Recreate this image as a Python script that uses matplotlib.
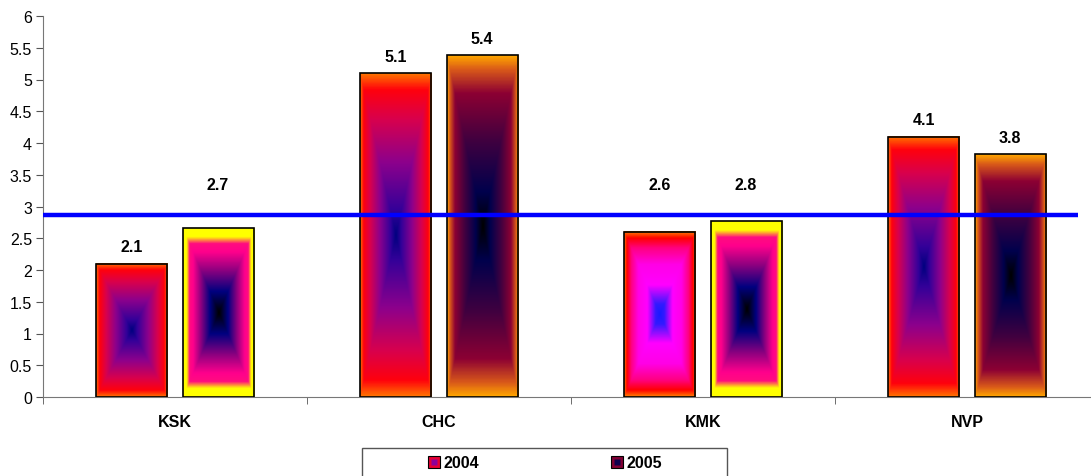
import numpy as np
import matplotlib.pyplot as plt
from matplotlib.colors import LinearSegmentedColormap
from matplotlib.lines import Line2D
from matplotlib.patches import Rectangle

plt.rcParams['font.family'] = ['Liberation Sans', 'DejaVu Sans']

categories = ['KSK', 'CHC', 'KMK', 'NVP']
series_names = ['2004', '2005']
values_2004 = [2.1, 5.1, 2.6, 4.1]
values_2005 = [2.66, 5.38, 2.77, 3.82]
average = 2.87
yticks = np.arange(0, 6.01, 0.5)

# "from centre" gradients: (t, colour), t=0 centre, t=1 edge
grad_a = [(0.0, (0.0, 0.0, 0.5)), (0.15, (0.2, 0.0, 0.6)), (0.45, (0.55, 0.0, 0.55)),
          (0.72, (0.85, 0.0, 0.3)), (0.9, (1.0, 0.0, 0.05)), (1.0, (1.0, 0.45, 0.0))]
grad_b = [(0.0, (0.0, 0.0, 0.0)), (0.25, (0.0, 0.0, 0.5)), (0.5, (0.55, 0.0, 0.5)),
          (0.72, (1.0, 0.0, 0.55)), (0.82, (1.0, 0.05, 0.5)), (0.9, (1.0, 1.0, 0.0)),
          (1.0, (1.0, 1.0, 0.0))]
grad_c = [(0.0, (0.0, 0.0, 0.0)), (0.2, (0.0, 0.0, 0.3)), (0.5, (0.25, 0.0, 0.25)),
          (0.78, (0.55, 0.0, 0.2)), (0.92, (0.85, 0.35, 0.1)), (1.0, (1.0, 0.65, 0.0))]
grad_d = [(0.0, (0.1, 0.1, 1.0)), (0.12, (0.2, 0.1, 1.0)), (0.35, (1.0, 0.0, 1.0)),
          (0.6, (1.0, 0.0, 0.9)), (0.8, (1.0, 0.0, 0.5)), (0.92, (1.0, 0.0, 0.0)),
          (1.0, (1.0, 0.5, 0.0))]
bar_grads = [[grad_a, grad_b], [grad_a, grad_c], [grad_d, grad_b], [grad_a, grad_c]]

fig = plt.figure(figsize=(10.91, 4.77), dpi=100)
ax = fig.add_axes([43 / 1091, 1 - 398 / 477, 1056 / 1091, 381 / 477])

x = np.arange(len(categories))
width = 0.269
off = 0.163
bars04 = ax.bar(x - off, values_2004, width, facecolor='none', edgecolor='black', lw=1.2, zorder=3)
bars05 = ax.bar(x + off, values_2005, width, facecolor='none', edgecolor='black', lw=1.2, zorder=3)

n = 301
u = np.linspace(-1, 1, n)
tt = np.maximum(np.abs(u)[None, :], np.abs(u)[:, None])
for i in range(len(categories)):
    for j, b in enumerate([bars04[i], bars05[i]]):
        cmap = LinearSegmentedColormap.from_list('g', bar_grads[i][j])
        img = cmap(tt)
        ax.imshow(img, extent=[b.get_x(), b.get_x() + b.get_width(), 0, b.get_height()],
                  aspect='auto', interpolation='bilinear', zorder=2)

ax.hlines(average, -0.5, 3.42, color='#0000ff', lw=3.2, zorder=4)

moved = {(0, 1): 3.35, (2, 0): 3.35, (2, 1): 3.35}
for i in range(len(categories)):
    for j, vals in enumerate([values_2004, values_2005]):
        xpos = x[i] + (off if j else -off)
        ypos = moved.get((i, j), vals[i] + 0.27)
        ax.text(xpos, ypos, f'{vals[i]:.1f}', ha='center', va='center',
                fontsize=11.5, fontweight='bold')

ax.set_xlim(-0.5, 3.5)
ax.set_ylim(0, 6)
ax.set_yticks(yticks)
ax.set_yticklabels([f'{v:g}' for v in yticks], fontsize=11.5)
ax.set_xticks(x)
ax.set_xticklabels(categories, fontsize=11.5, fontweight='bold')
ax.set_xticks(np.arange(-0.5, 4, 1), minor=True)
ax.tick_params(axis='x', which='major', length=0, pad=12)
ax.tick_params(axis='x', which='minor', length=5, color='#555555')
ax.tick_params(axis='y', length=5, pad=3, color='#555555')
for s in ['top', 'right']:
    ax.spines[s].set_visible(False)
for s in ['left', 'bottom']:
    ax.spines[s].set_color('#777777')

fig.add_artist(Rectangle((362 / 1091, -0.05), 365 / 1091, 1 - 449 / 477 + 0.05,
                         transform=fig.transFigure, facecolor='white',
                         edgecolor='#555555', lw=1.0))
handles = [
    (Line2D([], [], marker='s', ls='', ms=9, mfc=(0.9, 0.0, 0.2), mec='black', mew=0.8),
     Line2D([], [], marker='s', ls='', ms=4, mfc=(0.55, 0.0, 0.6), mec='none')),
    (Line2D([], [], marker='s', ls='', ms=9, mfc=(0.5, 0.0, 0.2), mec='black', mew=0.8),
     Line2D([], [], marker='s', ls='', ms=4, mfc=(0.05, 0.0, 0.3), mec='none')),
]
fig.legend(handles, series_names, ncol=2, loc='center', frameon=False,
           bbox_to_anchor=(545 / 1091, 1 - 464 / 477), prop={'size': 11.5, 'weight': 'bold'},
           handlelength=0.8, handletextpad=0.2, columnspacing=8.2)

fig.savefig('out.png', dpi=100)
